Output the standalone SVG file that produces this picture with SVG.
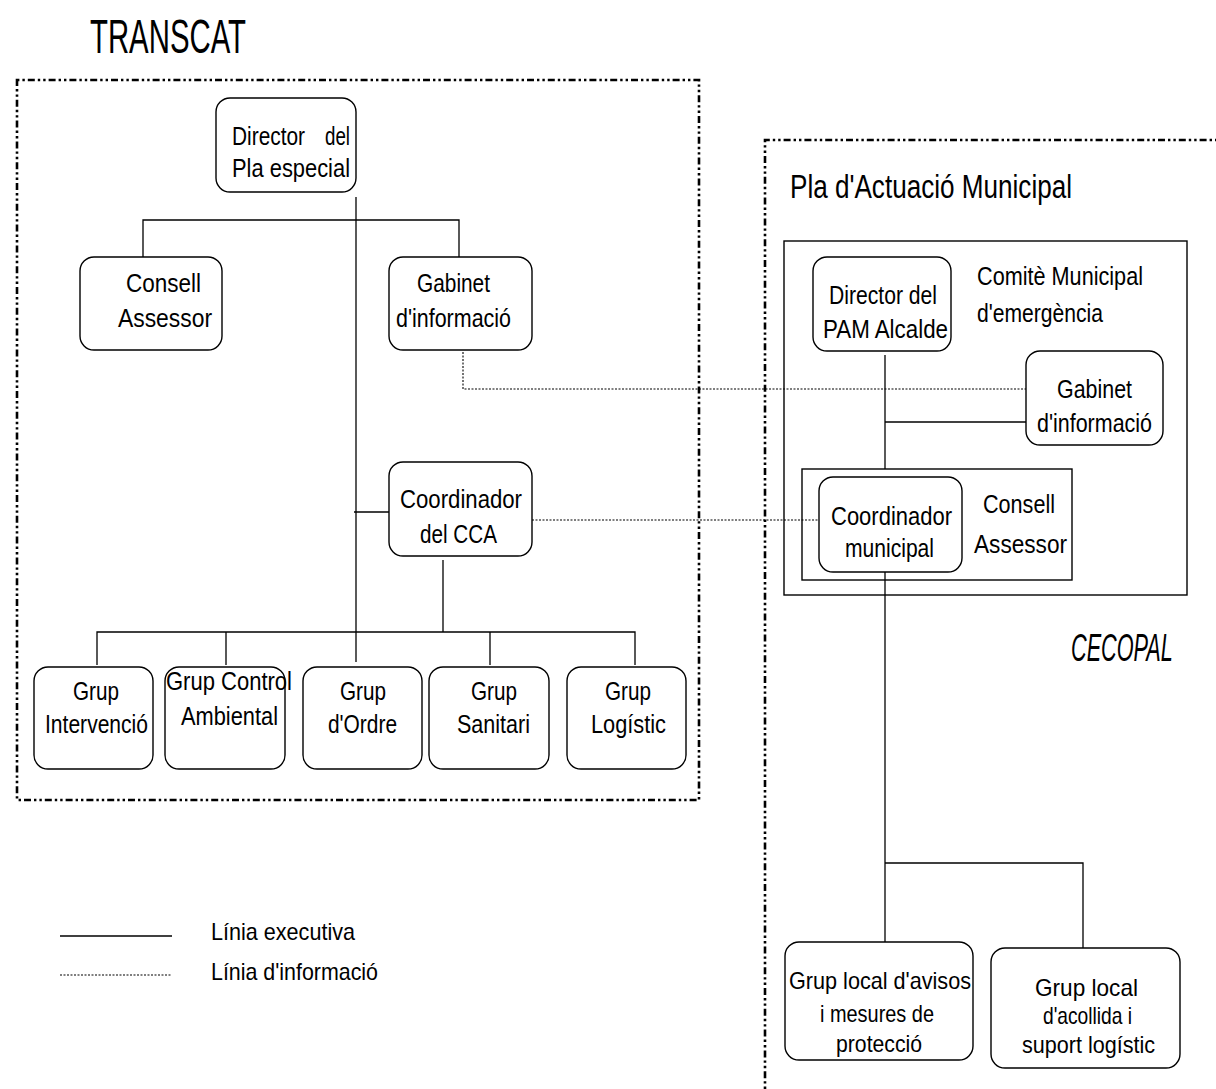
<svg xmlns="http://www.w3.org/2000/svg" width="1216" height="1089" viewBox="0 0 1216 1089">
<style>
.bg{fill:#fff}
.box{fill:#fff;stroke:#000;stroke-width:1.4}
.frame{fill:none;stroke:#000;stroke-width:1.4}
.ln{fill:none;stroke:#000;stroke-width:1.3}
.info{fill:none;stroke:#000;stroke-width:1.1;stroke-dasharray:2 1.5}
.bound{fill:none;stroke:#000;stroke-width:2.6;stroke-dasharray:2.4 3 2.4 3 7 3}
text{font-family:"Liberation Sans",Arial,sans-serif;font-size:26px;fill:#000}
.big{font-size:48px}
.hd{font-size:34px}
.md{font-size:25px}
.sm{font-size:24px}
.lg{font-size:24px}
.it{font-size:38px;font-style:italic}
</style>
<rect class="bg" x="0" y="0" width="1216" height="1089"/>

<g id="boundaries">
<rect class="bound" x="17" y="80" width="682" height="720"/>
<path class="bound" d="M765 1089 V140 H1216"/>
</g>

<g id="title-transcat"><text class="big" x="90" y="53" textLength="156" lengthAdjust="spacingAndGlyphs">TRANSCAT</text></g>
<g id="title-pam"><text class="hd" x="790" y="198" textLength="282" lengthAdjust="spacingAndGlyphs">Pla d'Actuació Municipal</text></g>
<g id="label-cecopal"><text class="it" transform="translate(1071 661) scale(0.57 1)" x="0" y="0">CECOPAL</text></g>

<g id="comite">
<rect class="frame" x="784" y="241" width="403" height="354"/>
<text class="md" x="977" y="285" textLength="166" lengthAdjust="spacingAndGlyphs">Comitè Municipal</text>
<text class="md" x="977" y="322" textLength="126" lengthAdjust="spacingAndGlyphs">d'emergència</text>
</g>
<g id="consell-municipal">
<rect class="frame" x="802" y="469" width="270" height="111"/>
<text x="983" y="513" textLength="72" lengthAdjust="spacingAndGlyphs">Consell</text>
<text x="974" y="553" textLength="93" lengthAdjust="spacingAndGlyphs">Assessor</text>
</g>

<g id="connectors">
<path class="ln" d="M356 197 V662"/>
<path class="ln" d="M143 257 V220 H459 V257"/>
<path class="ln" d="M354 512 H389"/>
<path class="ln" d="M443 560 V632"/>
<path class="ln" d="M97 665 V632 H635 V665"/>
<path class="ln" d="M226 632 V665 M490 632 V665"/>
<path class="ln" d="M885 355 V469"/>
<path class="ln" d="M885 422 H1026"/>
<path class="ln" d="M885 572 V942"/>
<path class="ln" d="M885 863 H1083 V948"/>
<path class="info" d="M463 352 V389 H1026"/>
<path class="info" d="M532 520 H819"/>
</g>

<g id="director">
<rect class="box" x="216" y="98" width="140" height="94" rx="14"/>
<text x="232" y="145" textLength="73" lengthAdjust="spacingAndGlyphs">Director</text>
<text x="325" y="145" textLength="25" lengthAdjust="spacingAndGlyphs">del</text>
<text x="232" y="177" textLength="118" lengthAdjust="spacingAndGlyphs">Pla especial</text>
</g>
<g id="consell">
<rect class="box" x="80" y="257" width="142" height="93" rx="14"/>
<text x="126" y="292" textLength="75" lengthAdjust="spacingAndGlyphs">Consell</text>
<text x="118" y="327" textLength="94" lengthAdjust="spacingAndGlyphs">Assessor</text>
</g>
<g id="gabinet">
<rect class="box" x="389" y="257" width="143" height="93" rx="14"/>
<text x="417" y="292" textLength="73" lengthAdjust="spacingAndGlyphs">Gabinet</text>
<text x="396" y="327" textLength="115" lengthAdjust="spacingAndGlyphs">d'informació</text>
</g>
<g id="coordinador-cca">
<rect class="box" x="389" y="462" width="143" height="94" rx="14"/>
<text x="400" y="508" textLength="122" lengthAdjust="spacingAndGlyphs">Coordinador</text>
<text x="420" y="543" textLength="77" lengthAdjust="spacingAndGlyphs">del CCA</text>
</g>
<g id="grup-intervencio">
<rect class="box" x="34" y="667" width="119" height="102" rx="14"/>
<text x="73" y="700" textLength="46" lengthAdjust="spacingAndGlyphs">Grup</text>
<text x="45" y="733" textLength="103" lengthAdjust="spacingAndGlyphs">Intervenció</text>
</g>
<g id="grup-control">
<rect class="box" x="165" y="667" width="120" height="102" rx="14"/>
<text x="166" y="690" textLength="126" lengthAdjust="spacingAndGlyphs">Grup Control</text>
<text x="181" y="725" textLength="97" lengthAdjust="spacingAndGlyphs">Ambiental</text>
</g>
<g id="grup-ordre">
<rect class="box" x="303" y="667" width="119" height="102" rx="14"/>
<text x="340" y="700" textLength="46" lengthAdjust="spacingAndGlyphs">Grup</text>
<text x="328" y="733" textLength="69" lengthAdjust="spacingAndGlyphs">d'Ordre</text>
</g>
<g id="grup-sanitari">
<rect class="box" x="429" y="667" width="120" height="102" rx="14"/>
<text x="471" y="700" textLength="46" lengthAdjust="spacingAndGlyphs">Grup</text>
<text x="457" y="733" textLength="73" lengthAdjust="spacingAndGlyphs">Sanitari</text>
</g>
<g id="grup-logistic">
<rect class="box" x="567" y="667" width="119" height="102" rx="14"/>
<text x="605" y="700" textLength="46" lengthAdjust="spacingAndGlyphs">Grup</text>
<text x="591" y="733" textLength="75" lengthAdjust="spacingAndGlyphs">Logístic</text>
</g>

<g id="director-pam">
<rect class="box" x="813" y="257" width="138" height="94" rx="14"/>
<text x="829" y="304" textLength="108" lengthAdjust="spacingAndGlyphs">Director del</text>
<text x="823" y="338" textLength="125" lengthAdjust="spacingAndGlyphs">PAM  Alcalde</text>
</g>
<g id="gabinet-municipal">
<rect class="box" x="1026" y="351" width="137" height="94" rx="14"/>
<text x="1057" y="398" textLength="75" lengthAdjust="spacingAndGlyphs">Gabinet</text>
<text x="1037" y="432" textLength="115" lengthAdjust="spacingAndGlyphs">d'informació</text>
</g>
<g id="coordinador-municipal">
<rect class="box" x="819" y="477" width="143" height="95" rx="14"/>
<text x="831" y="525" textLength="121" lengthAdjust="spacingAndGlyphs">Coordinador</text>
<text x="845" y="557" textLength="89" lengthAdjust="spacingAndGlyphs">municipal</text>
</g>
<g id="grup-avisos">
<rect class="box" x="785" y="942" width="188" height="118" rx="14"/>
<text class="sm" x="789" y="989" textLength="182" lengthAdjust="spacingAndGlyphs">Grup local d'avisos</text>
<text class="sm" x="820" y="1022" textLength="114" lengthAdjust="spacingAndGlyphs">i mesures de</text>
<text class="sm" x="836" y="1052" textLength="86" lengthAdjust="spacingAndGlyphs">protecció</text>
</g>
<g id="grup-acollida">
<rect class="box" x="991" y="948" width="189" height="120" rx="14"/>
<text class="sm" x="1035" y="996" textLength="103" lengthAdjust="spacingAndGlyphs">Grup local</text>
<text class="sm" x="1043" y="1024" textLength="89" lengthAdjust="spacingAndGlyphs">d'acollida i</text>
<text class="sm" x="1022" y="1053" textLength="133" lengthAdjust="spacingAndGlyphs">suport logístic</text>
</g>

<g id="legend">
<path class="ln" d="M60 936 H172"/>
<path class="info" d="M60 975 H172"/>
<text class="lg" x="211" y="940" textLength="144" lengthAdjust="spacingAndGlyphs">Línia executiva</text>
<text class="lg" x="211" y="980" textLength="167" lengthAdjust="spacingAndGlyphs">Línia d'informació</text>
</g>
</svg>
